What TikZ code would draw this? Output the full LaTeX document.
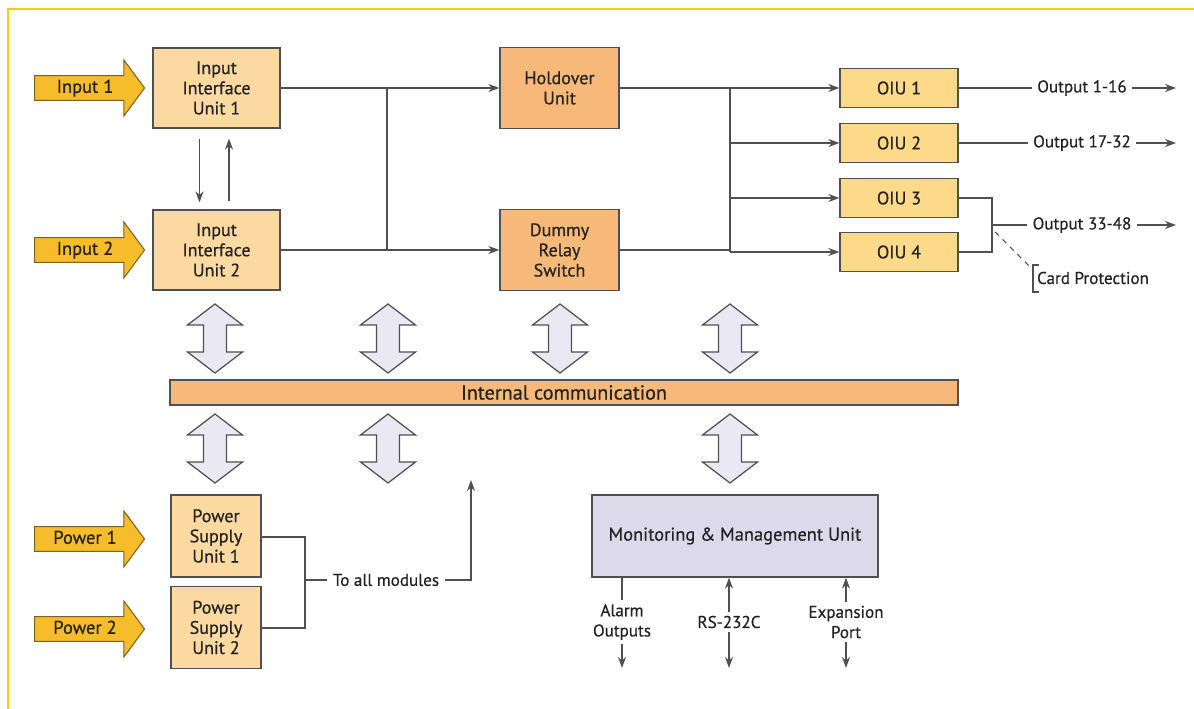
\documentclass[tikz,border=0pt]{standalone}
\usepackage{fontspec}
\setmainfont{PT Sans}[BoldFont=PT Sans, BoldFeatures={FakeBold=0.5}]
\usetikzlibrary{arrows.meta,shapes.arrows}
\definecolor{gold}{HTML}{F6BC2A}
\definecolor{goldline}{HTML}{7A6326}
\definecolor{peach}{HTML}{FCD9A0}
\definecolor{orangefill}{HTML}{F7B97A}
\definecolor{oiufill}{HTML}{FDD98A}
\definecolor{lav}{HTML}{DCDAEA}
\definecolor{dblfill}{HTML}{E9E8F3}
\definecolor{lg}{HTML}{505050}
\definecolor{framecol}{HTML}{FFCC00}
\definecolor{txt}{HTML}{222222}
\begin{document}
\begin{tikzpicture}[x=0.02cm,y=-0.02cm,
  line/.style={draw=lg, line width=0.85pt},
  arr/.style={line, -{Stealth[length=2.2mm,width=1.6mm]}},
  box/.style={draw=lg, line width=0.75pt, align=center, text=txt,
    font=\fontsize{10.3}{11.5}\selectfont\bfseries, inner sep=0pt},
  iiu/.style={box, fill=peach, minimum width=2.54cm, minimum height=1.6cm},
  hold/.style={box, fill=orangefill, minimum width=2.38cm, minimum height=1.62cm},
  oiu/.style={box, fill=oiufill, minimum width=2.36cm, minimum height=0.77cm},
  psu/.style={box, fill=peach, minimum width=1.8cm, minimum height=1.64cm},
  lbl/.style={text=txt, font=\fontsize{9.7}{11.5}\selectfont\bfseries, align=center, inner xsep=3pt, inner ysep=2pt},
  inarrow/.style={single arrow, draw=goldline, fill=gold, line width=0.6pt,
    minimum height=2.2cm, single arrow head extend=0.31cm,
    single arrow tip angle=107, inner xsep=0pt, inner ysep=2pt,
    text height=7.5pt, text depth=2pt, text=txt, font=\fontsize{10.5}{12}\selectfont\bfseries},
  dblarrow/.style={draw=lg, fill=dblfill, line width=0.7pt, line join=miter},
  dbl/.pic={\draw[dblarrow] (0,-34.5) -- (27.5,-13.5) -- (11.5,-13.5) -- (11.5,13.5)
      -- (27.5,13.5) -- (0,34.5) -- (-27.5,13.5) -- (-11.5,13.5) -- (-11.5,-13.5)
      -- (-27.5,-13.5) -- cycle;}
]
\useasboundingbox (0,0) rectangle (1194,709);
\fill[white] (0,0) rectangle (1194,709);
% frame
\draw[framecol, line width=1.6pt] (8,709) -- (8,9) -- (1194,9);

% input arrows
\node[inarrow] (in1) at (85,88) {Input 1};
\node[inarrow] (in2) at (85,250) {Input 2};
\node[inarrow] (pw1) at (85,539) {Power 1};
\node[inarrow] (pw2) at (85,629) {Power 2};

% boxes
\node[iiu] (iiu1) at (216.5,88) {Input\\Interface\\Unit 1};
\node[iiu] (iiu2) at (216.5,250) {Input\\Interface\\Unit 2};
\node[hold] (hold) at (559.5,88) {Holdover\\Unit};
\node[hold] (dummy) at (559.5,250) {Dummy\\Relay\\Switch};
\node[oiu] (oiu1) at (899,88) {OIU 1};
\node[oiu] (oiu2) at (899,143) {OIU 2};
\node[oiu] (oiu3) at (899,198) {OIU 3};
\node[oiu] (oiu4) at (899,252) {OIU 4};
\node[box, fill=orangefill, minimum width=15.76cm, minimum height=0.5cm,
  font=\fontsize{11.5}{13}\selectfont\bfseries] (bus) at (564,392.5) {Internal communication};
\node[psu] (psu1) at (216,536) {Power\\Supply\\Unit 1};
\node[psu] (psu2) at (216,627.5) {Power\\Supply\\Unit 2};
\node[box, fill=lav, minimum width=5.72cm, minimum height=1.64cm,
  font=\fontsize{10.5}{12}\selectfont\bfseries] (mmu) at (735,536) {Monitoring \& Management Unit};

% IIU cross arrows
\draw[arr] ([xshift=-0.34cm,yshift=-0.2cm]iiu1.south) -- ([xshift=-0.34cm,yshift=0.14cm]iiu2.north);
\draw[arr] ([xshift=0.25cm,yshift=0.16cm]iiu2.north) -- ([xshift=0.25cm,yshift=-0.2cm]iiu1.south);

% input to holdover / dummy
\coordinate (j1) at (387,88);
\coordinate (j2) at (387,250);
\draw[arr] (iiu1.east) -- (hold.west);
\draw[arr] (iiu2.east) -- (dummy.west);
\draw[line] (j1) -- (j2);

% to OIUs
\coordinate (j3) at (730,88);
\coordinate (j4) at (730,252);
\draw[line] (hold.east) -- (j3) -- (j4);
\draw[line] (dummy.east) -- (dummy.east -| j4);
\draw[arr] (j3) -- (oiu1.west);
\draw[arr] (oiu2.west -| j3) -- (oiu2.west);
\draw[arr] (oiu3.west -| j3) -- (oiu3.west);
\draw[arr] (j4) -- (oiu4.west);

% outputs
\node[lbl] (o1) at (1082,88) {Output 1-16};
\node[lbl] (o2) at (1082,143) {Output 17-32};
\node[lbl] (o3) at (1082,225) {Output 33-48};
\coordinate (o1e) at (1176,88);
\coordinate (o2e) at (1176,143);
\coordinate (o3e) at (1176,225);
\draw[line] (oiu1.east) -- (o1.west);
\draw[arr] (o1.east) -- (o1e);
\draw[line] (oiu2.east) -- (o2.west);
\draw[arr] (o2.east) -- (o2e);
\coordinate (j5) at (992,225);
\draw[line] (oiu3.east) -- (oiu3.east -| j5) -- (oiu4.east -| j5) -- (oiu4.east);
\draw[line] (j5) -- (o3.west);
\draw[arr] (o3.east) -- (o3e);

% card protection
\node[lbl, anchor=west, inner xsep=1pt] (cp) at (1035,278) {Card Protection};
\coordinate (cpa) at (995,232);
\coordinate (cpb) at (1031,268);
\draw[line, dashed, line width=0.6pt] (cpa) -- (cpb);
\draw[line, line width=0.6pt] (1039,265) -- (1033,265) -- (1033,292) -- (1039,292);

% double arrows
\foreach \xx in {215,388,560,730} \pic at (\xx,338.5) {dbl};
\foreach \xx in {215,388,730} \pic at (\xx,448.5) {dbl};

% power supply to all modules
\coordinate (p1) at (305,537);
\coordinate (p2) at (305,628);
\coordinate (p3) at (305,580);
\draw[line] (psu1.east |- p1) -- (p1) -- (p2) -- (psu2.east |- p2);
\node[lbl] (tam) at (386,580) {To all modules};
\coordinate (p4) at (471,580);
\coordinate (p5) at (471,480);
\draw[line] (p3) -- (tam.west);
\draw[arr] (tam.east) -- (p4) -- (p5);

% MMU ports
\node[lbl] (alarm) at (622,622) {Alarm\\Outputs};
\node[lbl] (rs) at (729,622) {RS-232C};
\node[lbl] (exp) at (846,622) {Expansion\\Port};
\coordinate (ae) at (622,668);
\coordinate (re) at (729,668);
\coordinate (ee) at (846,668);
\draw[line] (mmu.south -| alarm) -- (alarm.north);
\draw[arr] (alarm.south) -- (ae);
\draw[arr] (rs.north) -- (mmu.south -| rs);
\draw[arr] (rs.south) -- (re);
\draw[arr] (exp.north) -- (mmu.south -| exp);
\draw[arr] (exp.south) -- (ee);
\end{tikzpicture}
\end{document}
